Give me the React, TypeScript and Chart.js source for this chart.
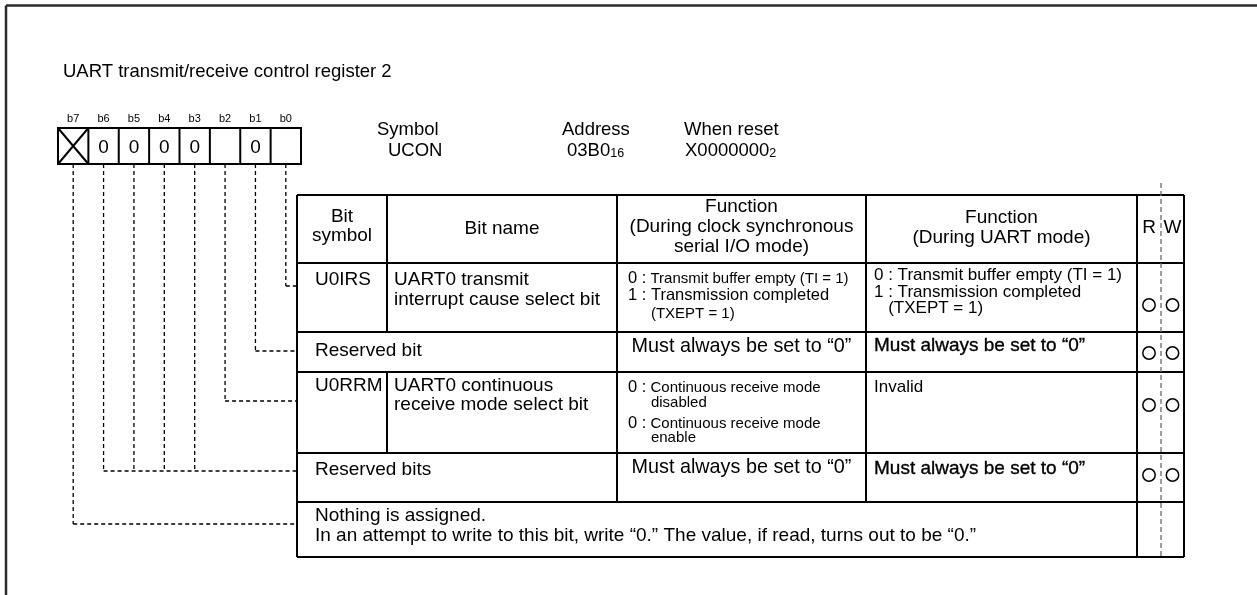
import React, { useEffect, useLayoutEffect, useRef } from "react";
import { Chart, registerables } from "chart.js";

Chart.register(...registerables);

// ---------------- content ----------------
const titleText = "UART transmit/receive control register 2";
const bitLabels = ["b7", "b6", "b5", "b4", "b3", "b2", "b1", "b0"];
const bitValues = ["X", "0", "0", "0", "0", "", "0", ""];
const infoLabels = ["Symbol", "Address", "When reset"];
const infoValues: [string, string][] = [["UCON", ""], ["03B0", "16"], ["X0000000", "2"]];
const headerTexts = [
  ["Bit", "symbol"],
  ["Bit name"],
  ["Function", "(During clock synchronous", "serial I/O mode)"],
  ["Function", "(During UART mode)"],
  ["R"],
  ["W"],
];
const rowSymbols = ["U0IRS", "", "U0RRM", "", ""];
const rowSpans = ["split", "merged", "split", "merged", "all"];
const rowNames = [
  ["UART0 transmit", "interrupt cause select bit"],
  ["Reserved bit"],
  ["UART0 continuous", "receive mode select bit"],
  ["Reserved bits"],
  ["Nothing is assigned.", "In an attempt to write to this bit, write \u201C0.\u201D The value, if read, turns out to be \u201C0.\u201D"],
];
// segments: [text, style]; style "pad:xxx" = blank indent as wide as the text in style xxx
type Seg = [string, string];
const rowFunc1: Seg[][][] = [
  [[["0 :", "mid"], [" Transmit buffer empty (TI = 1)", "small"]], [["1 : Transmission completed", "mid"]], [["0 : ", "pad:mid"], ["(TXEPT = 1)", "small"]]],
  [[["Must always be set to \u201C0\u201D", "wide"]]],
  [[["0 :", "mid"], [" Continuous receive mode", "small"]], [["0 : ", "pad:mid"], ["disabled", "small"]], [["0 :", "mid"], [" Continuous receive mode", "small"]], [["0 : ", "pad:mid"], ["enable", "small"]]],
  [[["Must always be set to \u201C0\u201D", "wide"]]],
  [],
];
const rowFunc2: Seg[][][] = [
  [[["0 : Transmit buffer empty (TI = 1)", "f2"]], [["1 : Transmission completed", "f2"]], [["0 ", "pad:f2"], ["(TXEPT = 1)", "f2"]]],
  [[["Must always be set to \u201C0\u201D", "heavy"]]],
  [[["Invalid", "f2"]]],
  [[["Must always be set to \u201C0\u201D", "heavy"]]],
  [],
];
const rowRead = [true, true, true, true, false];
const rowWrite = [true, true, true, true, false];
const rowBits = [[0], [1], [2], [3, 4, 5, 6], [7]];

// ---------------- layout / style ----------------
const W = 1257;
const H = 595;
const FONT = '"Liberation Sans", Arial, Helvetica, sans-serif';
const SIZES: Record<string, number> = {
  title: 18.5, bit: 11, box: 19, body: 19, info: 18.5, sub: 12.5,
  mid: 16.5, small: 15, f2: 17, heavy: 19, wide: 19.8,
};
const LAYOUT = {
  frameX: 6, frameY: 5.5,
  titleX: 63, titleY: 77,
  boxLeft: 58, boxRight: 301, boxTop: 128, boxBottom: 164, bitLabelY: 121.5, digitY: 153,
  infoX: [[377, 388], [562, 567], [684, 685]], infoY1: 135, infoY2: 156,
  cols: [297, 387, 617, 866, 1137, 1161, 1184],
  rows: [195, 263, 332, 372, 453, 502, 557],
  rwTop: 183,
  headerBaselines: [[222, 241], [234], [212, 232, 252], [223, 243], [233], [233]],
  symX: 315, nameX: 394, f1X: 628, f2X: 874,
  nameBaselines: [[285, 305], [356], [391, 410], [475], [521, 541]],
  f1Baselines: [[283, 300, 318], [352], [392, 407, 428, 442], [473], []],
  f2Baselines: [[280, 297, 313], [351], [392], [474], []],
  leaderY: [286, 351, 401, 471, 524],
  circleY: [305, 353, 405, 475, 0],
};

const boxW = (LAYOUT.boxRight - LAYOUT.boxLeft) / bitLabels.length;
const bitCenterX = (bitNo: number) => LAYOUT.boxLeft + boxW * (7 - bitNo) + boxW / 2;

function buildDatasets() {
  const ds: any[] = [];
  const dashStyle = {
    showLine: true, borderColor: "#000", borderWidth: 1.3, borderDash: [4, 3],
    pointRadius: 0, fill: false, tension: 0,
  };
  rowBits.forEach((bits, r) => {
    const ly = LAYOUT.leaderY[r];
    bits.forEach((b) => {
      ds.push({ ...dashStyle, data: [{ x: bitCenterX(b), y: LAYOUT.boxBottom }, { x: bitCenterX(b), y: ly }] });
    });
    const minX = Math.min(...bits.map(bitCenterX));
    ds.push({ ...dashStyle, data: [{ x: minX, y: ly }, { x: LAYOUT.cols[0], y: ly }] });
  });
  const rX = (LAYOUT.cols[4] + LAYOUT.cols[5]) / 2;
  const wX = (LAYOUT.cols[5] + LAYOUT.cols[6]) / 2;
  const pts: { x: number; y: number }[] = [];
  rowRead.forEach((v, r) => { if (v) pts.push({ x: rX, y: LAYOUT.circleY[r] }); });
  rowWrite.forEach((v, r) => { if (v) pts.push({ x: wX, y: LAYOUT.circleY[r] }); });
  ds.push({
    data: pts, showLine: false, pointRadius: 6.2, pointBorderWidth: 1.5,
    pointBackgroundColor: "#fff", pointBorderColor: "#000", pointStyle: "circle",
  });
  return ds;
}

const diagramPlugin = {
  id: "registerDiagram",
  beforeDatasetsDraw(chart: any) {
    const ctx: CanvasRenderingContext2D = chart.ctx;
    const X = (v: number) => chart.scales.x.getPixelForValue(v);
    const Y = (v: number) => chart.scales.y.getPixelForValue(v);
    const line = (x1: number, y1: number, x2: number, y2: number) => {
      ctx.beginPath(); ctx.moveTo(X(x1), Y(y1)); ctx.lineTo(X(x2), Y(y2)); ctx.stroke();
    };
    ctx.save();
    ctx.lineCap = "butt";
    ctx.strokeStyle = "#2b2b2b"; ctx.lineWidth = 2.5;
    line(LAYOUT.frameX, LAYOUT.frameY, W, LAYOUT.frameY);
    line(LAYOUT.frameX, LAYOUT.frameY, LAYOUT.frameX, H);
    ctx.strokeStyle = "#000"; ctx.lineWidth = 2;
    ctx.strokeRect(X(LAYOUT.boxLeft), Y(LAYOUT.boxTop), X(LAYOUT.boxRight) - X(LAYOUT.boxLeft), Y(LAYOUT.boxBottom) - Y(LAYOUT.boxTop));
    for (let i = 1; i < bitLabels.length; i++) {
      const x = LAYOUT.boxLeft + boxW * i;
      line(x, LAYOUT.boxTop, x, LAYOUT.boxBottom);
    }
    bitValues.forEach((v, i) => {
      if (v === "X") {
        const x0 = LAYOUT.boxLeft + boxW * i, x1 = x0 + boxW;
        line(x0, LAYOUT.boxTop, x1, LAYOUT.boxBottom);
        line(x1, LAYOUT.boxTop, x0, LAYOUT.boxBottom);
      }
    });
    const c = LAYOUT.cols, rw = LAYOUT.rows;
    rw.forEach((y) => line(c[0], y, c[6], y));
    line(c[0], rw[0], c[0], rw[6]);
    line(c[6], rw[0], c[6], rw[6]);
    line(c[4], rw[0], c[4], rw[6]);
    for (let r = 0; r < 6; r++) {
      const span = r === 0 ? "split" : rowSpans[r - 1];
      const t = rw[r], b = rw[r + 1];
      if (span === "split") line(c[1], t, c[1], b);
      if (span !== "all") { line(c[2], t, c[2], b); line(c[3], t, c[3], b); }
    }
    ctx.strokeStyle = "#6a6a6a"; ctx.lineWidth = 1.3; ctx.setLineDash([5, 3]);
    line(c[5], LAYOUT.rwTop, c[5], rw[6]);
    ctx.setLineDash([]);
    ctx.restore();
  },
  afterDatasetsDraw(chart: any) {
    const ctx: CanvasRenderingContext2D = chart.ctx;
    const X = (v: number) => chart.scales.x.getPixelForValue(v);
    const Y = (v: number) => chart.scales.y.getPixelForValue(v);
    const styleOf = (cls: string) => (cls.startsWith("pad:") ? cls.slice(4) : cls);
    const setFont = (cls: string) => { ctx.font = `${SIZES[styleOf(cls)]}px ${FONT}`; };
    const segWidth = (seg: Seg) => { setFont(seg[1]); return ctx.measureText(seg[0]).width; };
    const drawSegs = (segs: Seg[], x: number, y: number, align: "left" | "center") => {
      let w = 0;
      segs.forEach((s) => (w += segWidth(s)));
      let cx = align === "center" ? X(x) - w / 2 : X(x);
      segs.forEach((s) => {
        const sw = segWidth(s);
        if (!s[1].startsWith("pad:")) {
          setFont(s[1]);
          ctx.fillText(s[0], cx, Y(y));
          if (s[1] === "heavy") { ctx.lineWidth = 0.35; ctx.strokeText(s[0], cx, Y(y)); }
        }
        cx += sw;
      });
    };
    const txt = (t: string, cls: string, x: number, y: number, align: "left" | "center" = "left") =>
      drawSegs([[t, cls]], x, y, align);

    ctx.save();
    ctx.fillStyle = "#000"; ctx.strokeStyle = "#000";
    ctx.textAlign = "left"; ctx.textBaseline = "alphabetic";
    txt(titleText, "title", LAYOUT.titleX, LAYOUT.titleY);
    bitLabels.forEach((b, i) => {
      const cx = LAYOUT.boxLeft + boxW * i + boxW / 2;
      txt(b, "bit", cx, LAYOUT.bitLabelY, "center");
      if (bitValues[i] && bitValues[i] !== "X") txt(bitValues[i], "box", cx, LAYOUT.digitY, "center");
    });
    infoLabels.forEach((lab, i) => {
      txt(lab, "info", LAYOUT.infoX[i][0], LAYOUT.infoY1);
      const [main, sub] = infoValues[i];
      setFont("info");
      const mw = ctx.measureText(main).width;
      txt(main, "info", LAYOUT.infoX[i][1], LAYOUT.infoY2);
      if (sub) txt(sub, "sub", LAYOUT.infoX[i][1] + mw, LAYOUT.infoY2 + 1);
    });
    const c = LAYOUT.cols;
    const headerCenters = [(c[0] + c[1]) / 2, (c[1] + c[2]) / 2, (c[2] + c[3]) / 2, (c[3] + c[4]) / 2, (c[4] + c[5]) / 2, (c[5] + c[6]) / 2];
    headerTexts.forEach((lines, k) => {
      lines.forEach((l, j) => txt(l, "body", headerCenters[k], LAYOUT.headerBaselines[k][j], "center"));
    });
    rowNames.forEach((names, r) => {
      const nb = LAYOUT.nameBaselines[r];
      if (rowSpans[r] === "split") {
        txt(rowSymbols[r], "body", LAYOUT.symX, nb[0]);
        names.forEach((n, j) => txt(n, "body", LAYOUT.nameX, nb[j]));
      } else {
        names.forEach((n, j) => txt(n, "body", LAYOUT.symX, nb[j]));
      }
      rowFunc1[r].forEach((segs, j) => {
        const centered = rowSpans[r] === "merged";
        drawSegs(segs, centered ? (c[2] + c[3]) / 2 : LAYOUT.f1X, LAYOUT.f1Baselines[r][j], centered ? "center" : "left");
      });
      rowFunc2[r].forEach((segs, j) => drawSegs(segs, LAYOUT.f2X, LAYOUT.f2Baselines[r][j], "left"));
    });
    ctx.restore();
  },
};

export default function App() {
  const ref = useRef<HTMLCanvasElement>(null);
  useLayoutEffect(() => {
    const b = document.body.style;
    const prevM = b.margin, prevO = b.overflow;
    b.margin = "0";
    b.overflow = "hidden";
    return () => { b.margin = prevM; b.overflow = prevO; };
  }, []);
  useEffect(() => {
    if (!ref.current) return;
    const chart = new Chart(ref.current, {
      type: "scatter",
      data: { datasets: buildDatasets() },
      options: {
        animation: false,
        responsive: false,
        devicePixelRatio: 1,
        events: [],
        layout: { padding: 0, autoPadding: false },
        plugins: { legend: { display: false }, tooltip: { enabled: false }, title: { display: false } },
        scales: {
          x: { type: "linear", min: 0, max: W, display: false },
          y: { type: "linear", min: 0, max: H, reverse: true, display: false },
        },
      },
      plugins: [diagramPlugin],
    } as any);
    return () => chart.destroy();
  }, []);
  return (
    <div style={{ width: W, height: H, overflow: "hidden", background: "#fff" }}>
      <canvas ref={ref} width={W} height={H} style={{ display: "block", width: W, height: H }} />
    </div>
  );
}
